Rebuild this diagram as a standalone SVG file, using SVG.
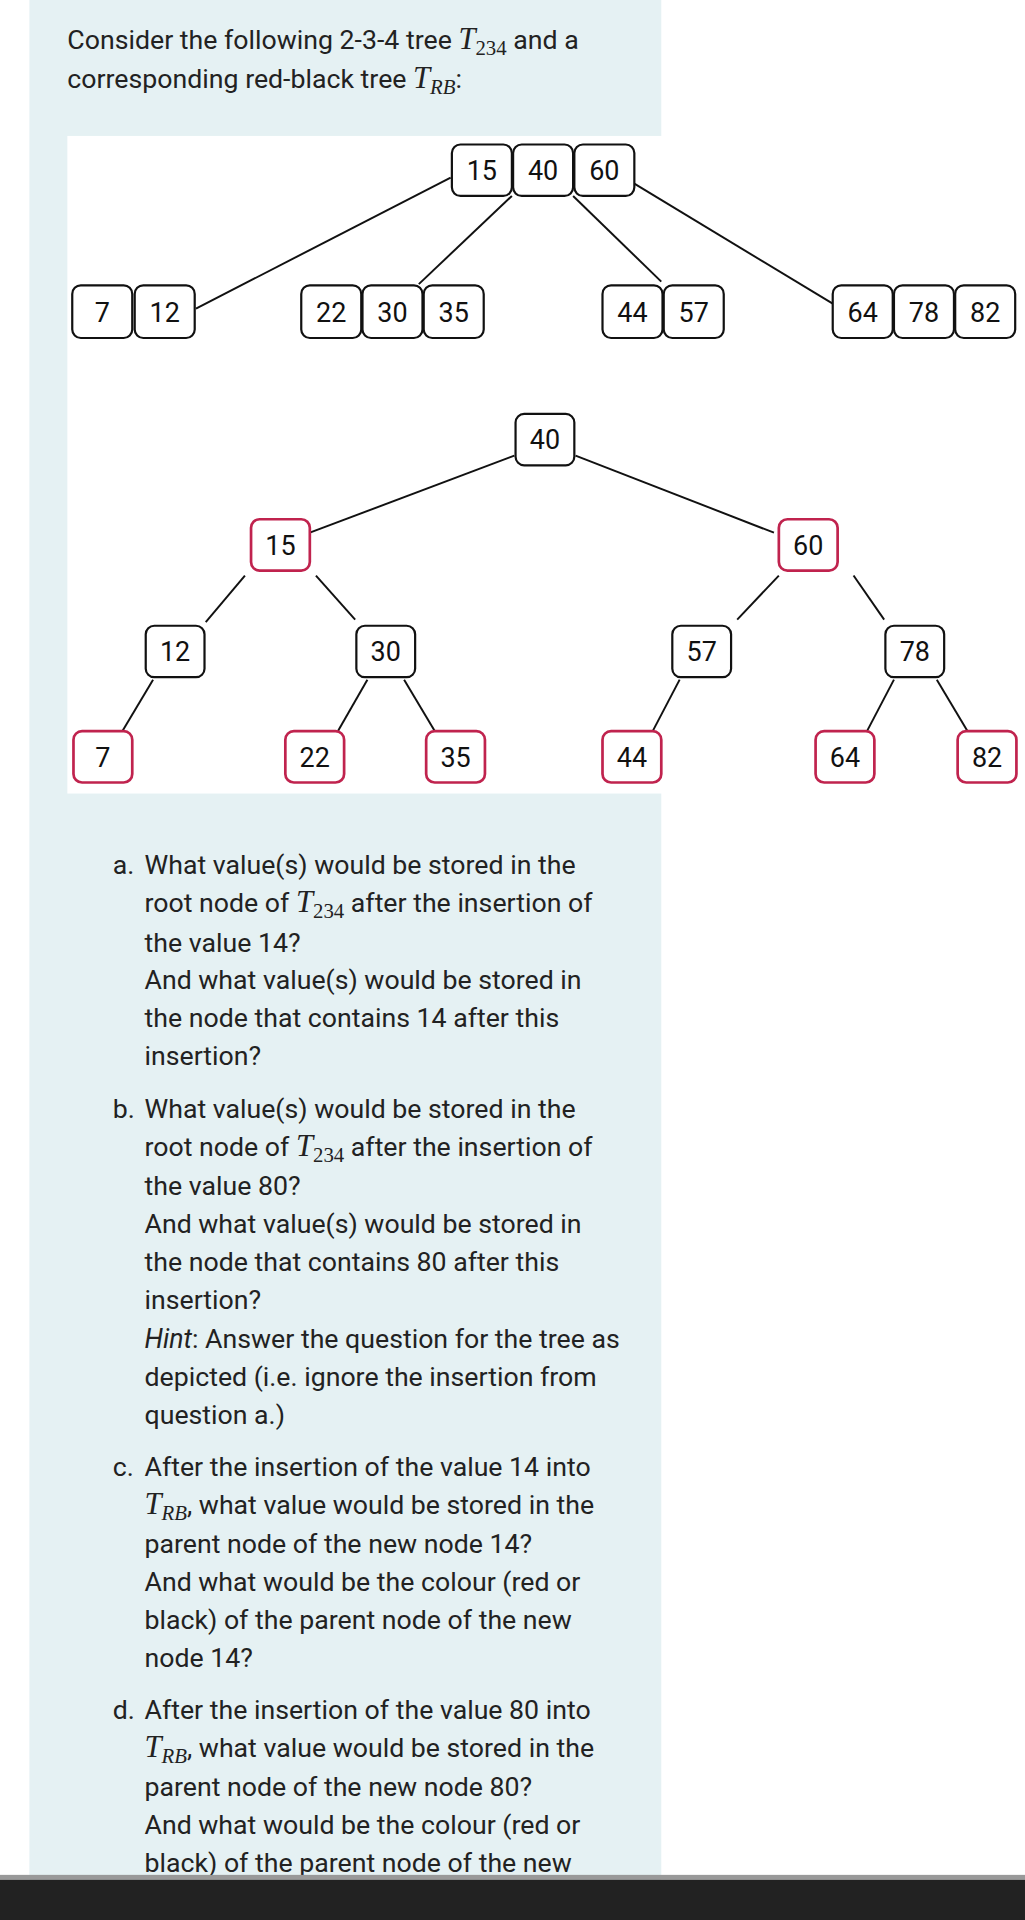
<svg xmlns="http://www.w3.org/2000/svg" width="1025" height="1920" viewBox="0 0 1025 1920">
<style>
.n{fill:#fff;stroke:#111;stroke-width:1.8}
.r{fill:#fff;stroke:#c0234e;stroke-width:2.2}
.v{font-family:Roboto,"Liberation Sans",sans-serif;font-size:22px;fill:#111;text-anchor:middle}
.e{stroke:#111;stroke-width:1.6;fill:none}
.t{font-family:Roboto,"Liberation Sans",sans-serif;font-size:21.8px;fill:#222}
.m{font-family:"Liberation Serif",serif;font-style:italic}
.s{font-family:"Liberation Serif",serif;font-size:17px}
</style>
<rect width="1025" height="1920" fill="#fff"/>
<g transform="scale(1.2246)">
<rect x="24" y="-10" width="516" height="1560" rx="8" fill="#e5f1f3"/>
<rect x="55" y="111" width="782" height="537" fill="#fff"/>
<text class="t" x="55" y="40">Consider the following 2-3-4 tree <tspan class="m" font-size="25">T</tspan><tspan class="s" dy="5">234</tspan><tspan dy="-5"> and a</tspan></text>
<text class="t" x="55" y="72">corresponding red-black tree <tspan class="m" font-size="25">T</tspan><tspan class="s m" dy="5">RB</tspan><tspan dy="-5">:</tspan></text>
<g id="connectors">
<line class="e" x1="368" y1="145" x2="160" y2="252"/>
<line class="e" x1="418" y1="160" x2="342" y2="232"/>
<line class="e" x1="468" y1="160" x2="540" y2="230"/>
<line class="e" x1="518" y1="150" x2="680" y2="248"/>
<line class="e" x1="420" y1="372" x2="253" y2="435"/>
<line class="e" x1="470" y1="372" x2="632" y2="435"/>
<line class="e" x1="200" y1="470" x2="168" y2="508"/>
<line class="e" x1="258" y1="470" x2="290" y2="506"/>
<line class="e" x1="125" y1="555" x2="100" y2="597"/>
<line class="e" x1="300" y1="555" x2="276" y2="597"/>
<line class="e" x1="330" y1="555" x2="355" y2="597"/>
<line class="e" x1="636" y1="470" x2="602" y2="506"/>
<line class="e" x1="697" y1="470" x2="722" y2="506"/>
<line class="e" x1="555" y1="555" x2="533" y2="597"/>
<line class="e" x1="730" y1="555" x2="708" y2="597"/>
<line class="e" x1="765" y1="555" x2="790" y2="597"/>
</g>
<g id="b-root"><rect class="n" x="369" y="118" width="49" height="42" rx="7"/><text class="v" x="393.5" y="147">15</text><rect class="n" x="419" y="118" width="49" height="42" rx="7"/><text class="v" x="443.5" y="147">40</text><rect class="n" x="469" y="118" width="49" height="42" rx="7"/><text class="v" x="493.5" y="147">60</text></g>
<g id="b-7-12"><rect class="n" x="59" y="233" width="49" height="43" rx="7"/><text class="v" x="83.5" y="263">7</text><rect class="n" x="110" y="233" width="49" height="43" rx="7"/><text class="v" x="134.5" y="263">12</text></g>
<g id="b-22-30-35"><rect class="n" x="246" y="233" width="49" height="43" rx="7"/><text class="v" x="270.5" y="263">22</text><rect class="n" x="296" y="233" width="49" height="43" rx="7"/><text class="v" x="320.5" y="263">30</text><rect class="n" x="346" y="233" width="49" height="43" rx="7"/><text class="v" x="370.5" y="263">35</text></g>
<g id="b-44-57"><rect class="n" x="492" y="233" width="49" height="43" rx="7"/><text class="v" x="516.5" y="263">44</text><rect class="n" x="542" y="233" width="49" height="43" rx="7"/><text class="v" x="566.5" y="263">57</text></g>
<g id="b-64-78-82"><rect class="n" x="680" y="233" width="49" height="43" rx="7"/><text class="v" x="704.5" y="263">64</text><rect class="n" x="730" y="233" width="49" height="43" rx="7"/><text class="v" x="754.5" y="263">78</text><rect class="n" x="780" y="233" width="49" height="43" rx="7"/><text class="v" x="804.5" y="263">82</text></g>
<g id="rb40"><rect class="n" x="421" y="338" width="48" height="42" rx="7"/><text class="v" x="445" y="367">40</text></g>
<g id="rb15"><rect class="r" x="205" y="424" width="48" height="42" rx="7"/><text class="v" x="229" y="453">15</text></g>
<g id="rb60"><rect class="r" x="636" y="424" width="48" height="42" rx="7"/><text class="v" x="660" y="453">60</text></g>
<g id="rb12"><rect class="n" x="119" y="511" width="48" height="42" rx="7"/><text class="v" x="143" y="540">12</text></g>
<g id="rb30"><rect class="n" x="291" y="511" width="48" height="42" rx="7"/><text class="v" x="315" y="540">30</text></g>
<g id="rb57"><rect class="n" x="549" y="511" width="48" height="42" rx="7"/><text class="v" x="573" y="540">57</text></g>
<g id="rb78"><rect class="n" x="723" y="511" width="48" height="42" rx="7"/><text class="v" x="747" y="540">78</text></g>
<g id="rb7"><rect class="r" x="60" y="597" width="48" height="42" rx="7"/><text class="v" x="84" y="626">7</text></g>
<g id="rb22"><rect class="r" x="233" y="597" width="48" height="42" rx="7"/><text class="v" x="257" y="626">22</text></g>
<g id="rb35"><rect class="r" x="348" y="597" width="48" height="42" rx="7"/><text class="v" x="372" y="626">35</text></g>
<g id="rb44"><rect class="r" x="492" y="597" width="48" height="42" rx="7"/><text class="v" x="516" y="626">44</text></g>
<g id="rb64"><rect class="r" x="666" y="597" width="48" height="42" rx="7"/><text class="v" x="690" y="626">64</text></g>
<g id="rb82"><rect class="r" x="782" y="597" width="48" height="42" rx="7"/><text class="v" x="806" y="626">82</text></g>
<g class="t">
<text x="92" y="714">a.</text>
<text x="118" y="714">What value(s) would be stored in the</text>
<text x="118" y="745">root node of <tspan class="m" font-size="25">T</tspan><tspan class="s" dy="5">234</tspan><tspan dy="-5"> after the insertion of</tspan></text>
<text x="118" y="777">the value 14?</text>
<text x="118" y="808">And what value(s) would be stored in</text>
<text x="118" y="839">the node that contains 14 after this</text>
<text x="118" y="870">insertion?</text>
<text x="92" y="913">b.</text>
<text x="118" y="913">What value(s) would be stored in the</text>
<text x="118" y="944">root node of <tspan class="m" font-size="25">T</tspan><tspan class="s" dy="5">234</tspan><tspan dy="-5"> after the insertion of</tspan></text>
<text x="118" y="976">the value 80?</text>
<text x="118" y="1007">And what value(s) would be stored in</text>
<text x="118" y="1038">the node that contains 80 after this</text>
<text x="118" y="1069">insertion?</text>
<text x="118" y="1101"><tspan font-style="italic">Hint</tspan>: Answer the question for the tree as</text>
<text x="118" y="1132">depicted (i.e. ignore the insertion from</text>
<text x="118" y="1163">question a.)</text>
<text x="92" y="1205">c.</text>
<text x="118" y="1205">After the insertion of the value 14 into</text>
<text x="118" y="1236"><tspan class="m" font-size="25">T</tspan><tspan class="s m" dy="5">RB</tspan><tspan dy="-5">, what value would be stored in the</tspan></text>
<text x="118" y="1268">parent node of the new node 14?</text>
<text x="118" y="1299">And what would be the colour (red or</text>
<text x="118" y="1330">black) of the parent node of the new</text>
<text x="118" y="1361">node 14?</text>
<text x="92" y="1404">d.</text>
<text x="118" y="1404">After the insertion of the value 80 into</text>
<text x="118" y="1435"><tspan class="m" font-size="25">T</tspan><tspan class="s m" dy="5">RB</tspan><tspan dy="-5">, what value would be stored in the</tspan></text>
<text x="118" y="1467">parent node of the new node 80?</text>
<text x="118" y="1498">And what would be the colour (red or</text>
<text x="118" y="1529">black) of the parent node of the new</text>
</g>
<rect x="0" y="1531" width="837" height="4" fill="#999"/>
<rect x="0" y="1535" width="837" height="40" fill="#222"/>
</g>
</svg>
